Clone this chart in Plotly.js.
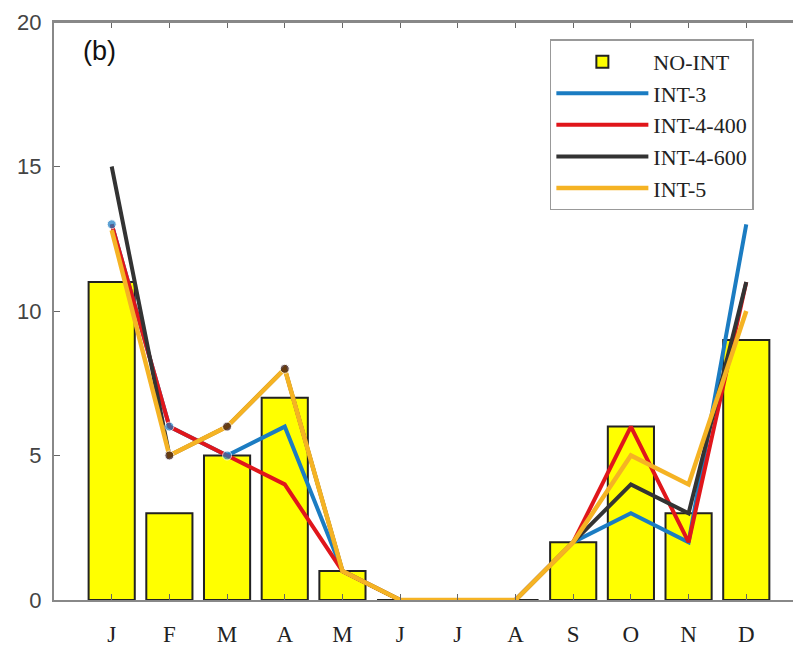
<!DOCTYPE html>
<html>
<head>
<meta charset="utf-8">
<script src="https://cdn.plot.ly/plotly-3.0.1.min.js"></script>
<style>html,body{margin:0;padding:0;background:#fff;}#chart{width:793px;height:650px;}</style>
</head>
<body>
<div id="chart"></div>
<script>
var months = ['J','F','M','A','M','J','J','A','S','O','N','D'];
var noInt   = [11, 3, 5, 7, 1, 0, 0, 0, 2, 6, 3, 9];
var int3    = [13, 6, 5, 6, 1, 0, 0, 0, 2, 3, 2, 13];
var int4400 = [13, 6, 5, 4, 1, 0, 0, 0, 2, 6, 2, 11];
var int4600 = [15, 5, 6, 8, 1, 0, 0, 0, 2, 4, 3, 11];
var int5    = [12.8, 5, 6, 8, 1, 0, 0, 0, 2, 5, 4, 10];
var int3Dots    = [1, 1, 1, 0, 0, 0, 0, 0, 0, 0, 0, 0];
var int4600Dots = [0, 1, 1, 1, 0, 0, 0, 0, 0, 0, 0, 0];

var xs = months.map(function(_, i){ return i + 1; });
function sizes(flags){ return flags.map(function(f){ return f ? 9 : 0; }); }

var traces = [
  {type:'bar', x:xs, y:noInt, name:'NO-INT', width:0.8,
   marker:{color:'#ffff00', line:{color:'#222', width:2}}},
  {type:'scatter', mode:'lines', x:xs, y:int3, name:'INT-3',
   line:{color:'#1b7cc2', width:4}},
  {type:'scatter', mode:'lines', x:xs, y:int4400, name:'INT-4-400',
   line:{color:'#e0161b', width:4}},
  {type:'scatter', mode:'lines', x:xs, y:int4600, name:'INT-4-600',
   line:{color:'#333333', width:4}},
  {type:'scatter', mode:'lines', x:xs, y:int5, name:'INT-5',
   line:{color:'#f5b324', width:4.5}},
  {type:'scatter', mode:'markers', x:xs, y:int3, showlegend:false, hoverinfo:'skip',
   marker:{color:'#1b7cc2', size:sizes(int3Dots)}},
  {type:'scatter', mode:'markers', x:xs, y:int4600, showlegend:false, hoverinfo:'skip',
   marker:{color:'#2a0a0a', size:sizes(int4600Dots)}}
];

var layout = {
  width:793, height:650,
  margin:{l:54, r:0, t:22, b:50},
  paper_bgcolor:'#fff', plot_bgcolor:'#fff',
  showlegend:true,
  xaxis:{range:[0, 12.81], tickmode:'array', tickvals:xs, ticktext:months,
    ticks:'inside', ticklen:6, tickcolor:'#666', showline:true, linecolor:'#888', linewidth:2,
    mirror:'ticks', showgrid:false, zeroline:false, ticklabelstandoff:12,
    tickfont:{family:'Liberation Serif, Times New Roman, serif', size:23, color:'#222'}},
  yaxis:{range:[0, 20], tickvals:[0,5,10,15,20], ticks:'inside', ticklen:6, tickcolor:'#666',
    showline:true, linecolor:'#888', linewidth:2, mirror:false, showgrid:false, zeroline:false,
    ticklabelstandoff:6,
    tickfont:{family:'Liberation Sans, Arial, sans-serif', size:22, color:'#444'}},
  legend:{x:0.671, y:0.97, xanchor:'left', yanchor:'top', bgcolor:'#fff',
    bordercolor:'#999', borderwidth:1.5, itemwidth:92, tracegroupgap:0,
    font:{family:'Liberation Serif, Times New Roman, serif', size:22, color:'#222'}},
  annotations:[{text:'(b)', x:0.062, y:0.95, xref:'paper', yref:'paper', xanchor:'center', yanchor:'middle',
    showarrow:false, font:{family:'Liberation Sans, Arial, sans-serif', size:27, color:'#111'}}],
  shapes:[{type:'line', xref:'paper', yref:'paper', x0:0, x1:1, y0:1, y1:1, line:{color:'#888', width:2}}]
};
Plotly.newPlot('chart', traces, layout, {displayModeBar:false, staticPlot:true});
</script>
</body>
</html>
